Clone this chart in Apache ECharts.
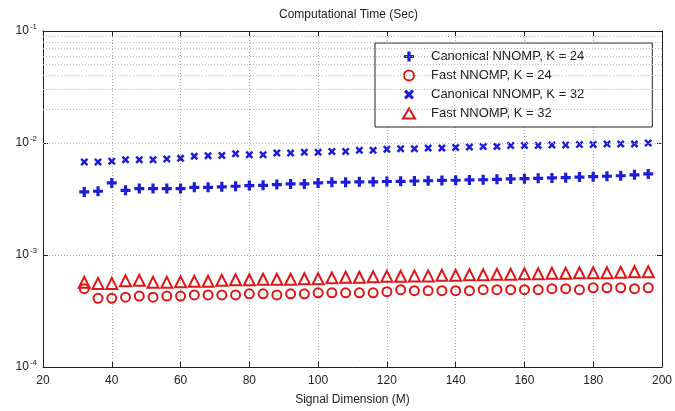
<!DOCTYPE html>
<html>
<head>
<meta charset="utf-8">
<script src="https://cdn.jsdelivr.net/npm/echarts@6/dist/echarts.min.js"></script>
<style>
  html, body { margin: 0; padding: 0; background: #fff; }
  #chart { width: 675px; height: 411px; }
</style>
</head>
<body>
<div id="chart"></div>
<script>
// signal dimension M
var dims = [32, 36, 40, 44, 48, 52, 56, 60, 64, 68, 72, 76, 80, 84, 88, 92, 96, 100,
  104, 108, 112, 116, 120, 124, 128, 132, 136, 140, 144, 148, 152, 156, 160, 164,
  168, 172, 176, 180, 184, 188, 192, 196]

// computational time (sec)
var canon24 = [0.00366, 0.00371, 0.0044, 0.00378, 0.00392, 0.00392, 0.00392, 0.00392,
  0.00402, 0.00402, 0.00406, 0.00411, 0.00417, 0.00419, 0.00425, 0.00431, 0.00431, 0.0044,
  0.00446, 0.00446, 0.0045, 0.0045, 0.00453, 0.00455, 0.00458, 0.0046, 0.00463, 0.00465,
  0.00468, 0.0047, 0.00474, 0.00478, 0.0048, 0.00484, 0.00488, 0.0049, 0.00496, 0.005,
  0.00505, 0.0051, 0.0052, 0.0053]
var fast24 = [0.0005, 0.00041, 0.00041, 0.00042, 0.00043, 0.00042, 0.00043, 0.00043,
  0.00044, 0.00044, 0.00044, 0.00044, 0.00045, 0.00045, 0.00044, 0.00045, 0.00045, 0.00046,
  0.00046, 0.00046, 0.00046, 0.00046, 0.00047, 0.00049, 0.00048, 0.00048, 0.00048, 0.00048,
  0.00048, 0.00049, 0.00049, 0.00049, 0.00049, 0.00049, 0.0005, 0.0005, 0.00049, 0.00051,
  0.00051, 0.00051, 0.0005, 0.00051]
var canon32 = [0.00677, 0.00677, 0.00686, 0.0071, 0.0071, 0.0071, 0.0072, 0.00729,
  0.0076, 0.0077, 0.00775, 0.00803, 0.00787, 0.00787, 0.00815, 0.00815, 0.00825, 0.00825,
  0.0084, 0.0084, 0.0086, 0.0086, 0.0088, 0.0089, 0.0089, 0.009, 0.009, 0.0091,
  0.0092, 0.0093, 0.0093, 0.0095, 0.0095, 0.0095, 0.0096, 0.0096, 0.0097, 0.0097,
  0.0098, 0.0098, 0.0098, 0.01]
var fast32 = [0.00057, 0.000558, 0.000558, 0.000588, 0.000594, 0.00057, 0.00057, 0.000576,
  0.000582, 0.000582, 0.000594, 0.0006, 0.0006, 0.000607, 0.000607, 0.000607, 0.000613, 0.000613,
  0.000625, 0.000632, 0.000632, 0.000638, 0.000645, 0.000645, 0.000651, 0.000651, 0.000658, 0.000658,
  0.000665, 0.000665, 0.000672, 0.000672, 0.000679, 0.000679, 0.000686, 0.000686, 0.000693, 0.000693,
  0.000693, 0.0007, 0.000708, 0.000708]

var seriesNames = ['Canonical NNOMP, K = 24', 'Fast NNOMP, K = 24',
  'Canonical NNOMP, K = 32', 'Fast NNOMP, K = 32']

// log minor grid lines (2..9 of each decade)
var minorGrid = []
;[1e-4, 1e-3, 1e-2].forEach(function(d) {
  for (var k = 2; k <= 9; k++) minorGrid.push(+(d * k).toPrecision(3))
})

var BLUE = '#1d1dd8'
var RED = '#e01515'
var FONT = 'Liberation Sans'
var plusPath = 'path://M3.4,0H6.6V3.4H10V6.6H6.6V10H3.4V6.6H0V3.4H3.4Z'
var crossPath = 'path://M0,2.2L2.2,0L5,2.8L7.8,0L10,2.2L7.2,5L10,7.8L7.8,10L5,7.2L2.2,10L0,7.8L2.8,5Z'

function pairs(ys) {
  return dims.map(function(x, i) { return [x, ys[i]] })
}

var chart = echarts.init(document.getElementById('chart'))

var gridLine = { show: true, lineStyle: { color: '#a8a8a8', type: [1, 2], width: 1 } }
var frameLine = { show: true, lineStyle: { color: '#222', width: 1 } }
var inTick = { show: true, inside: true, length: 5, lineStyle: { color: '#222' } }

var option = {
  animation: false,
  backgroundColor: '#fff',
  title: {
    text: 'Computational Time (Sec)',
    left: 274,
    top: 4,
    textStyle: { fontFamily: FONT, fontSize: 12, fontWeight: 'normal', color: '#222' }
  },
  legend: {
    data: seriesNames,
    orient: 'vertical',
    left: 375,
    top: 43,
    padding: [7, 68, 7, 27],
    itemGap: 6,
    itemWidth: 12,
    itemHeight: 10,
    backgroundColor: '#fff',
    borderColor: '#222',
    borderWidth: 1,
    textStyle: { fontFamily: FONT, fontSize: 13, color: '#222', padding: [0, 0, 0, 11] }
  },
  grid: { left: 43, right: 10, top: 31, bottom: 43 },
  xAxis: [{
    type: 'value',
    min: 20,
    max: 200,
    interval: 20,
    name: 'Signal Dimension (M)',
    nameLocation: 'middle',
    nameGap: 27,
    nameTextStyle: { fontFamily: FONT, fontSize: 12, color: '#222' },
    axisLine: frameLine,
    axisTick: inTick,
    axisLabel: { fontFamily: FONT, fontSize: 12, color: '#222', margin: 8 },
    splitLine: gridLine
  }, {
    type: 'value',
    position: 'top',
    min: 20,
    max: 200,
    interval: 20,
    axisLine: frameLine,
    axisTick: inTick,
    axisLabel: { show: false },
    splitLine: { show: false }
  }],
  yAxis: [{
    type: 'log',
    logBase: 10,
    min: 1e-4,
    max: 1e-1,
    axisLine: frameLine,
    axisTick: inTick,
    axisLabel: {
      margin: 6,
      formatter: function(v) {
        return '10{sup|' + Math.round(Math.log10(v)) + '}'
      },
      fontFamily: FONT,
      fontSize: 12,
      color: '#222',
      rich: {
        sup: { fontFamily: FONT, fontSize: 8, color: '#222', verticalAlign: 'top', padding: [0, 0, 8, 1] }
      }
    },
    splitLine: gridLine
  }, {
    type: 'log',
    logBase: 10,
    min: 1e-4,
    max: 1e-1,
    position: 'right',
    axisLine: frameLine,
    axisTick: inTick,
    axisLabel: { show: false },
    splitLine: { show: false }
  }],
  series: [{
    name: seriesNames[0],
    type: 'scatter',
    symbol: plusPath,
    symbolSize: 10,
    itemStyle: { color: BLUE, opacity: 1 },
    data: pairs(canon24),
    markLine: {
      silent: true,
      symbol: 'none',
      label: { show: false },
      lineStyle: { color: '#b8b8b8', type: [1, 2], width: 1 },
      data: minorGrid.map(function(v) { return { yAxis: v } })
    }
  }, {
    name: seriesNames[1],
    type: 'scatter',
    symbol: 'circle',
    symbolSize: 9,
    itemStyle: { color: 'rgba(255,255,255,0)', borderColor: RED, borderWidth: 2, opacity: 1 },
    data: pairs(fast24)
  }, {
    name: seriesNames[2],
    type: 'scatter',
    symbol: crossPath,
    symbolSize: 8,
    itemStyle: { color: BLUE, opacity: 1 },
    data: pairs(canon32)
  }, {
    name: seriesNames[3],
    type: 'scatter',
    symbol: 'triangle',
    symbolSize: 11,
    itemStyle: { color: 'rgba(255,255,255,0)', borderColor: RED, borderWidth: 2, opacity: 1 },
    data: pairs(fast32)
  }]
}

chart.setOption(option)
</script>
</body>
</html>
